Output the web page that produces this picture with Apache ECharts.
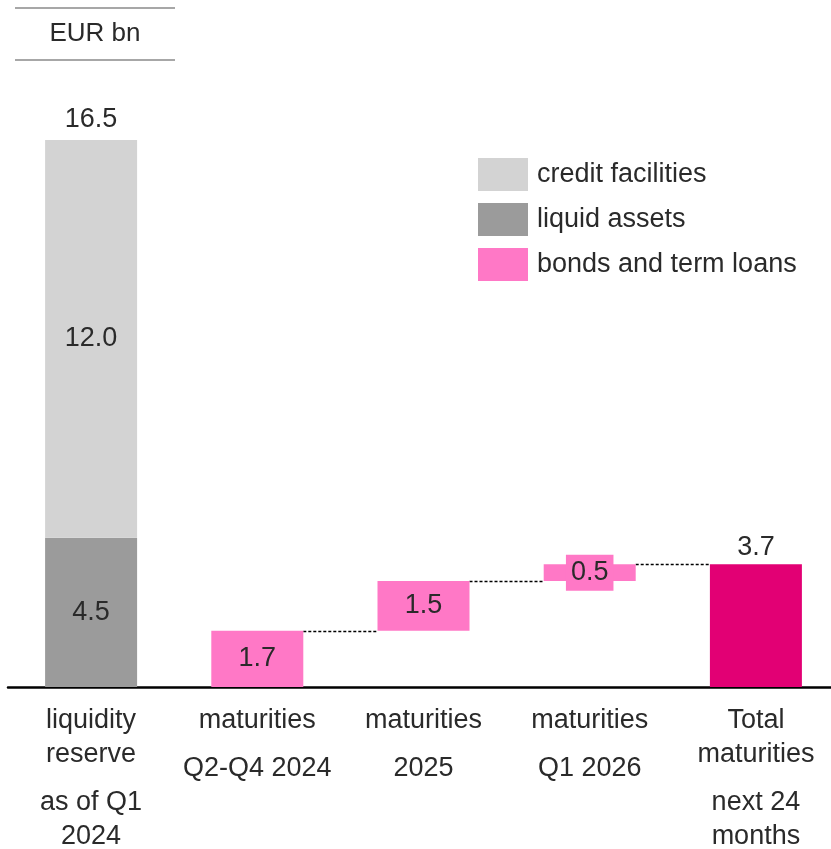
<!DOCTYPE html>
<html>
<head>
<meta charset="utf-8">
<script src="https://cdn.jsdelivr.net/npm/echarts@6/dist/echarts.min.js"></script>
<style>
  html, body { margin: 0; padding: 0; background: #fff; }
  #chart { width: 831px; height: 849px; }
</style>
</head>
<body>
<div id="chart"></div>
<script>
// ---- data ----
const categories = [
  'liquidity\nreserve\n\nas of Q1\n2024',
  'maturities\n\nQ2-Q4 2024',
  'maturities\n\n2025',
  'maturities\n\nQ1 2026',
  'Total\nmaturities\n\nnext 24\nmonths'
];
const liquidAssets      = [4.5, '-', '-', '-', '-'];
const creditFacilities  = [12.0, '-', '-', '-', '-'];
const bondsAndTermLoans = ['-', 1.7, 1.5, 0.5, '-'];
const totalMaturities   = ['-', '-', '-', '-', 3.7];
const unitLabel = 'EUR bn';

// ---- derived ----
const num = v => (typeof v === 'number' ? v : 0);
const reserveTotal = categories.map((c, i) =>
  (typeof liquidAssets[i] === 'number' || typeof creditFacilities[i] === 'number')
    ? +(num(liquidAssets[i]) + num(creditFacilities[i])).toFixed(1) : '-');
let run = 0;
const waterfallBase = bondsAndTermLoans.map(v => {
  if (typeof v !== 'number') return '-';
  const b = +run.toFixed(2); run += v; return b;
});
const connectors = [];
bondsAndTermLoans.forEach((v, i) => {
  if (typeof v === 'number') connectors.push([i, +(waterfallBase[i] + v).toFixed(2)]);
});

const C_CREDIT = '#d3d3d3';
const C_LIQUID = '#9b9b9b';
const C_BONDS  = '#ff78c6';
const C_TOTAL  = '#e20074';
const TXT = '#2a2a2a';
const FONT = '"Liberation Sans", Arial, sans-serif';
const BAR_W = 92;

const valueLabel = {
  show: true, position: 'inside', fontSize: 27, color: TXT, fontFamily: FONT,
  formatter: p => Number(p.value).toFixed(1)
};

const bondsData = bondsAndTermLoans.map(v => {
  if (typeof v === 'number' && v < 1) {
    return { value: v, label: { backgroundColor: C_BONDS, padding: [5, 5, 4, 5] } };
  }
  return v;
});

const chart = echarts.init(document.getElementById('chart'), null, { renderer: 'canvas' });
chart.setOption({
  animation: false,
  backgroundColor: '#fff',
  textStyle: { fontFamily: FONT },
  grid: { left: 8, width: 831, top: 24, bottom: 162, containLabel: false, outerBoundsMode: 'none' },
  legend: {
    orient: 'vertical', left: 478, top: 158, padding: 0,
    itemWidth: 50, itemHeight: 33, itemGap: 12,
    icon: 'rect',
    data: ['credit facilities', 'liquid assets', 'bonds and term loans'],
    textStyle: { fontSize: 27, color: TXT, fontFamily: FONT, padding: [0, 0, 0, 4] },
    selectedMode: false
  },
  xAxis: {
    type: 'category', data: categories,
    axisLine: { lineStyle: { color: '#000', width: 2.5 } },
    axisTick: { show: false },
    axisLabel: {
      margin: 17, interval: 0,
      formatter: v => v.split('\n').map(l => l ? '{t|' + l + '}' : '{g| }').join('\n'),
      rich: {
        t: { fontSize: 27, lineHeight: 34, color: TXT, fontFamily: FONT, align: 'center' },
        g: { fontSize: 4, lineHeight: 14 }
      }
    }
  },
  yAxis: { type: 'value', min: 0, max: 20, show: false, splitLine: { show: false } },
  graphic: [
    { type: 'line', shape: { x1: 15, y1: 8, x2: 175, y2: 8 }, style: { stroke: '#8a8a8a', lineWidth: 1.5 } },
    { type: 'line', shape: { x1: 15, y1: 60, x2: 175, y2: 60 }, style: { stroke: '#8a8a8a', lineWidth: 1.5 } },
    { type: 'text', x: 95, y: 34, style: { text: unitLabel, fontSize: 26, fill: TXT, fontFamily: FONT, align: 'center', verticalAlign: 'middle' } }
  ],
  series: [
    {
      name: 'liquid assets', type: 'bar', stack: 'all', barWidth: BAR_W,
      data: liquidAssets, itemStyle: { color: C_LIQUID }, label: valueLabel, z: 2
    },
    {
      name: 'credit facilities', type: 'bar', stack: 'all', barWidth: BAR_W,
      data: creditFacilities, itemStyle: { color: C_CREDIT }, label: valueLabel, z: 2
    },
    {
      name: 'base', type: 'bar', stack: 'all', barWidth: BAR_W, silent: true,
      data: waterfallBase, itemStyle: { color: 'rgba(0,0,0,0)' }, label: { show: false }
    },
    {
      name: 'bonds and term loans', type: 'bar', stack: 'all', barWidth: BAR_W,
      data: bondsData, itemStyle: { color: C_BONDS }, label: valueLabel, z: 2
    },
    {
      name: 'total', type: 'bar', stack: 'all', barWidth: BAR_W,
      data: totalMaturities, itemStyle: { color: C_TOTAL },
      label: { show: true, position: 'top', distance: 3, fontSize: 27, color: TXT, fontFamily: FONT,
               formatter: p => Number(p.value).toFixed(1) }, z: 2
    },
    {
      name: 'reserve total', type: 'scatter', symbolSize: 0, silent: true,
      data: reserveTotal, itemStyle: { opacity: 1 },
      label: { show: true, position: 'top', distance: 7, fontSize: 27, color: TXT, fontFamily: FONT, opacity: 1,
               formatter: p => Number(p.value).toFixed(1) }
    },
    {
      name: 'connectors', type: 'custom', silent: true, z: 1,
      data: connectors,
      renderItem: (params, api) => {
        const i = api.value(0), v = api.value(1);
        const p1 = api.coord([i, v]);
        const p2 = api.coord([i + 1, v]);
        return {
          type: 'line',
          shape: { x1: p1[0] + BAR_W / 2, y1: Math.round(p1[1]) + 0.5, x2: p2[0] - BAR_W / 2, y2: Math.round(p2[1]) + 0.5 },
          style: { stroke: '#000', lineWidth: 1.3, lineDash: [3, 2] }
        };
      }
    }
  ]
});
</script>
</body>
</html>
